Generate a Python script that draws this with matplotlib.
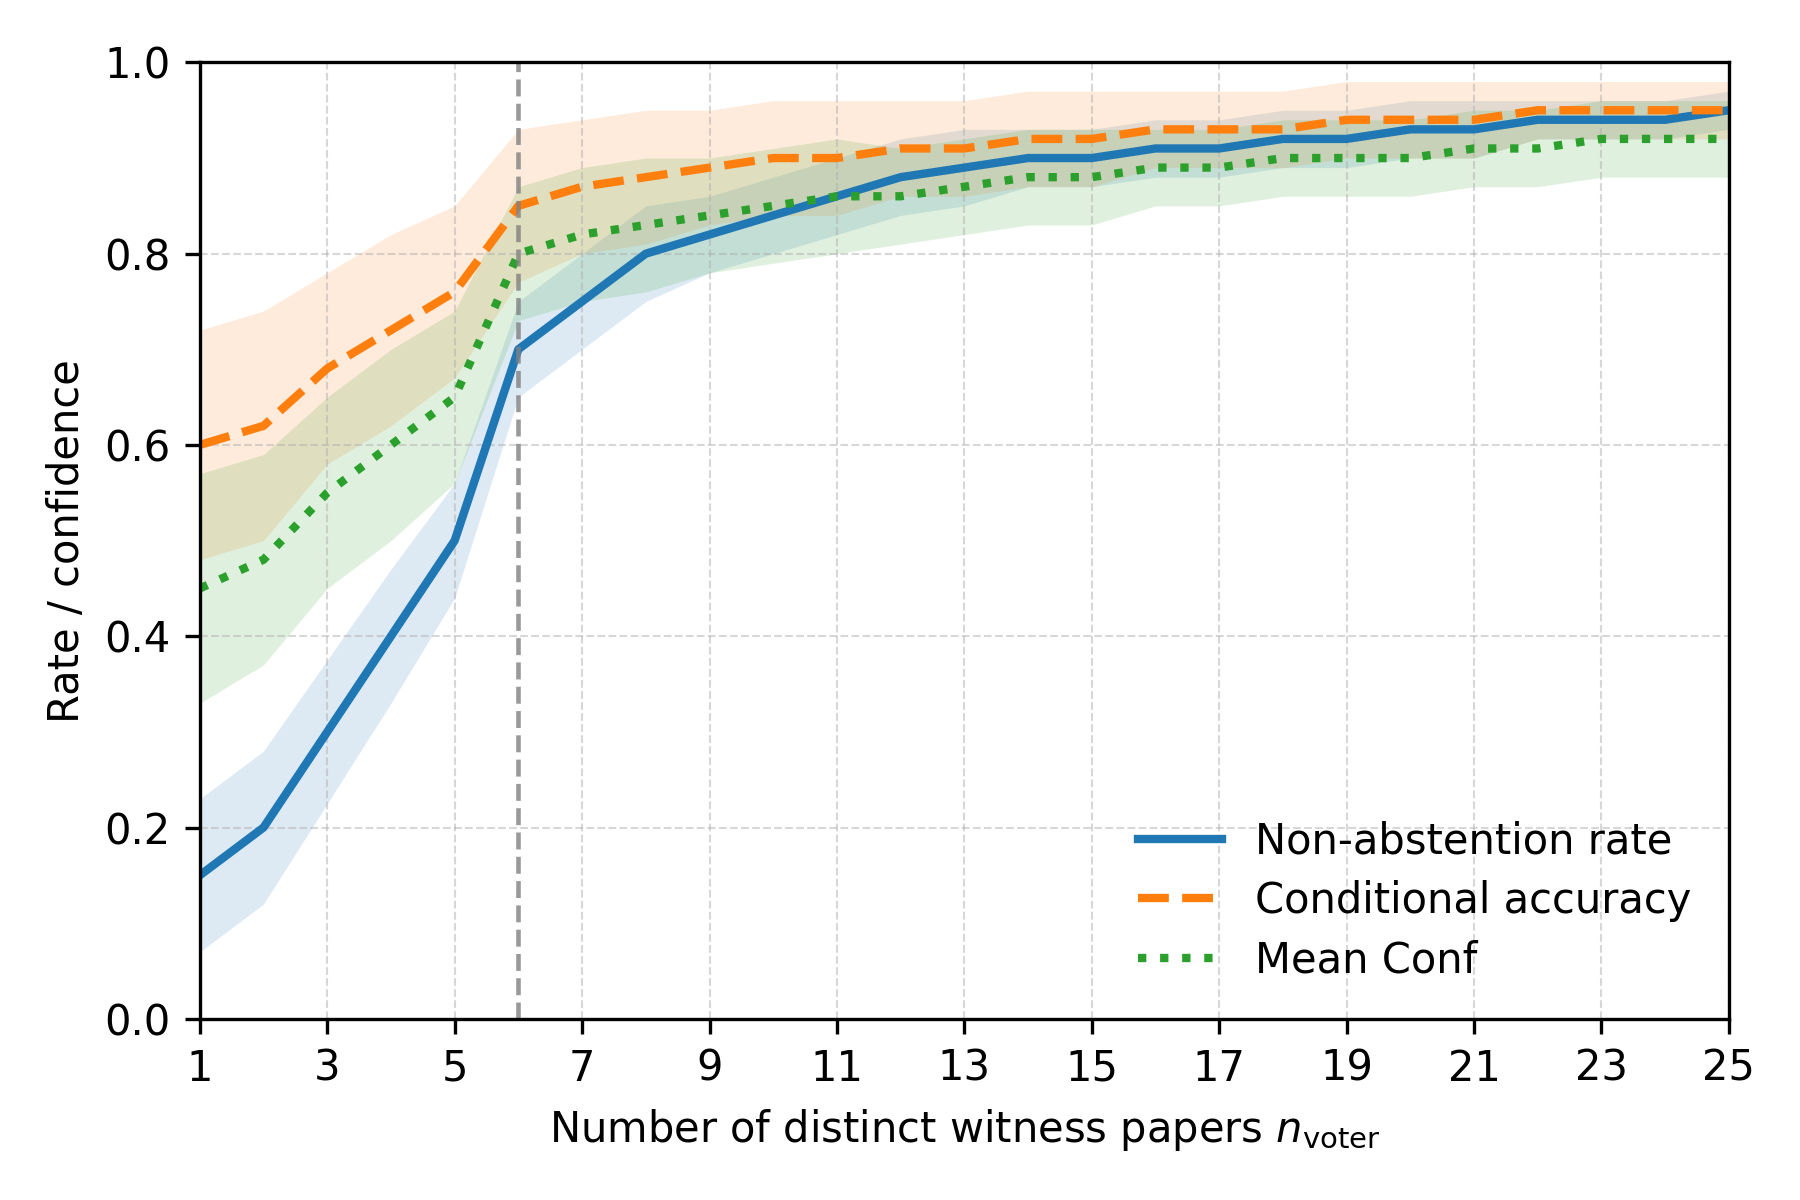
import matplotlib

matplotlib.use("Agg")
import matplotlib.pyplot as plt  # noqa: E402
import numpy as np  # noqa: E402

# x: number of distinct witness papers
n_voter = list(range(1, 26))

# non-abstention rate
non_abst = [0.15, 0.20, 0.30, 0.40, 0.50, 0.70, 0.75, 0.80, 0.82, 0.84,
            0.86, 0.88, 0.89, 0.90, 0.90, 0.91, 0.91, 0.92, 0.92, 0.93,
            0.93, 0.94, 0.94, 0.94, 0.95]
non_abst_hw = [0.08, 0.08, 0.075, 0.07, 0.06, 0.05, 0.05, 0.05, 0.04, 0.04,
               0.04, 0.04, 0.04, 0.03, 0.03, 0.03, 0.03, 0.03, 0.03, 0.03,
               0.03, 0.02, 0.02, 0.02, 0.02]

# conditional accuracy
cond_acc = [0.60, 0.62, 0.68, 0.72, 0.76, 0.85, 0.87, 0.88, 0.89, 0.90,
            0.90, 0.91, 0.91, 0.92, 0.92, 0.93, 0.93, 0.93, 0.94, 0.94,
            0.94, 0.95, 0.95, 0.95, 0.95]
cond_acc_hw = [0.12, 0.12, 0.10, 0.10, 0.09, 0.08, 0.07, 0.07, 0.06, 0.06,
               0.06, 0.05, 0.05, 0.05, 0.05, 0.04, 0.04, 0.04, 0.04, 0.04,
               0.04, 0.03, 0.03, 0.03, 0.03]

# mean confidence
mean_conf = [0.45, 0.48, 0.55, 0.60, 0.65, 0.80, 0.82, 0.83, 0.84, 0.85,
             0.86, 0.86, 0.87, 0.88, 0.88, 0.89, 0.89, 0.90, 0.90, 0.90,
             0.91, 0.91, 0.92, 0.92, 0.92]
mean_conf_hw = [0.12, 0.11, 0.10, 0.10, 0.09, 0.07, 0.07, 0.07, 0.06, 0.06,
                0.06, 0.05, 0.05, 0.05, 0.05, 0.04, 0.04, 0.04, 0.04, 0.04,
                0.04, 0.04, 0.04, 0.04, 0.04]

threshold = 6

plt.rcParams["font.size"] = 10

fig, ax = plt.subplots(figsize=(6, 4), dpi=300)
x = np.array(n_voter)

series = [
    (non_abst, non_abst_hw, "#1f77b4", "-", "Non-abstention rate"),
    (cond_acc, cond_acc_hw, "#ff7f0e", "--", "Conditional accuracy"),
    (mean_conf, mean_conf_hw, "#2ca02c", ":", "Mean Conf"),
]
for y, hw, c, ls, lab in series:
    y = np.array(y)
    hw = np.array(hw)
    ax.fill_between(x, y - hw, y + hw, color=c, alpha=0.15, lw=0)
    ax.plot(x, y, color=c, ls=ls, lw=2, label=lab)

ax.axvline(threshold, color="gray", ls="--", lw=1.1, alpha=0.8)

ax.set_xlim(1, 25)
ax.set_ylim(0, 1)
ax.set_xticks(range(1, 26, 2))
ax.set_yticks(np.arange(0, 1.01, 0.2))
ax.grid(True, ls="--", lw=0.5, alpha=0.5)
ax.set_xlabel(r"Number of distinct witness papers $n_{\mathrm{voter}}$")
ax.set_ylabel("Rate / confidence")
ax.legend(loc="lower right", frameon=False, labelspacing=0.42)

plt.subplots_adjust(left=0.111, right=0.9605, top=0.948, bottom=0.151)
plt.savefig("out.png", dpi=300)
plt.close()
